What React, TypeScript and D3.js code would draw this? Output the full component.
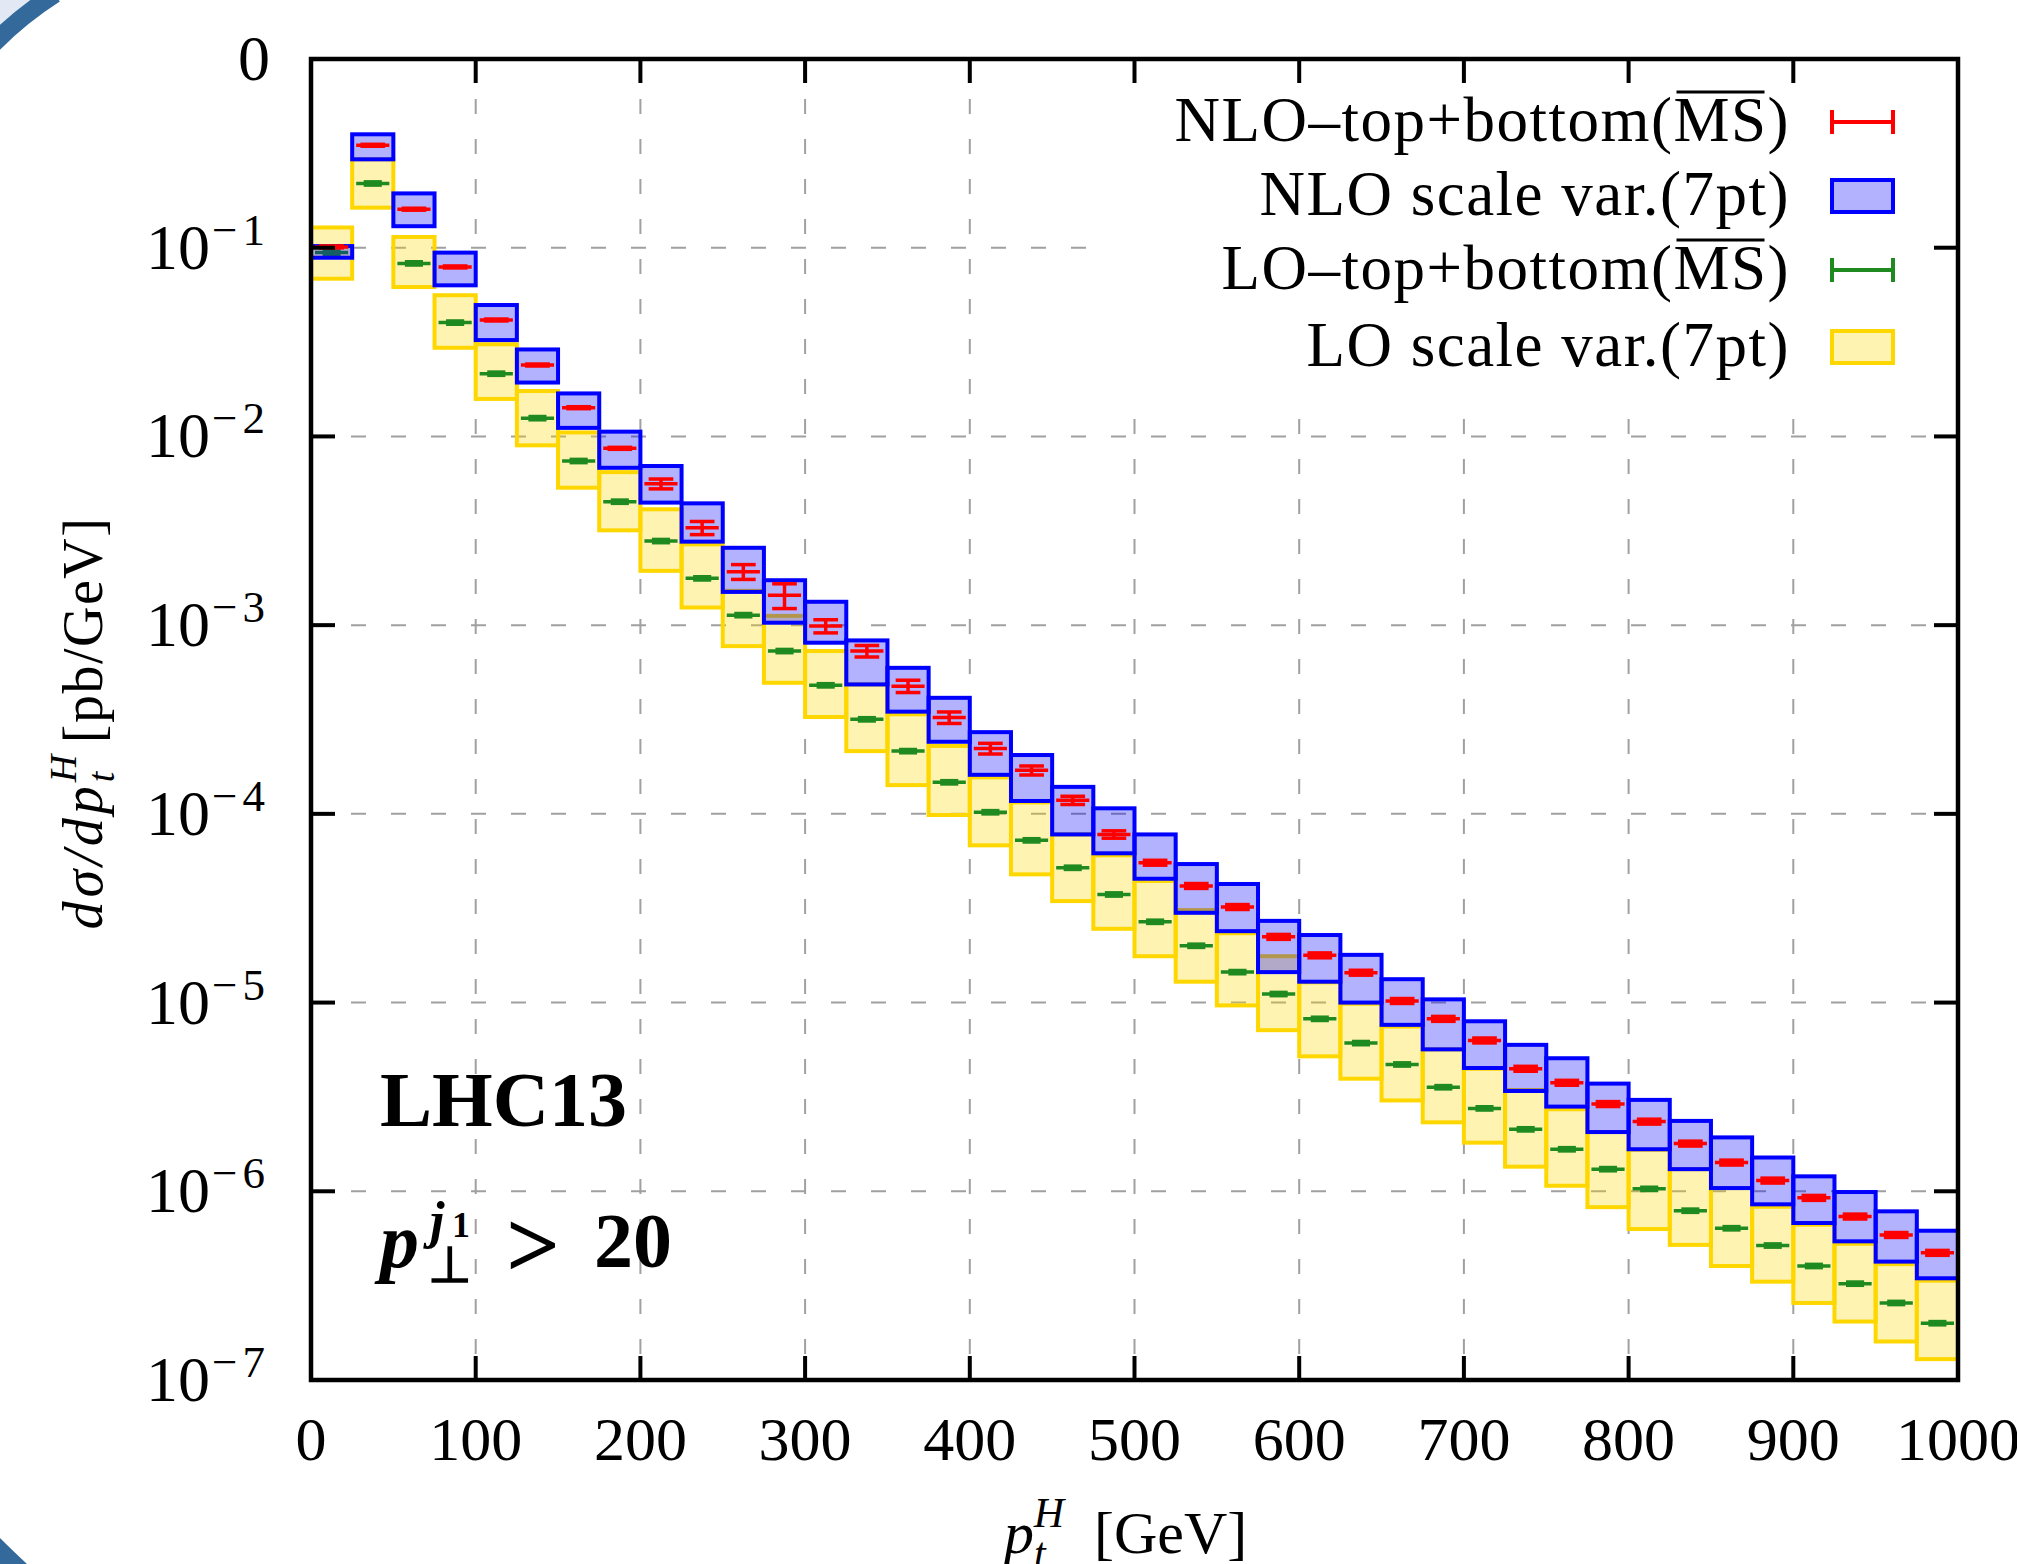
import React from 'react';
import * as d3 from 'd3';

// p_t^H bins (lower edges, GeV), 25 GeV wide
const binLow = [0, 25, 50, 75, 100, 125, 150, 175, 200, 225, 250, 275, 300, 325, 350, 375, 400, 425, 450, 475,
  500, 525, 550, 575, 600, 625, 650, 675, 700, 725, 750, 775, 800, 825, 850, 875, 900, 925, 950, 975];
const binWidth = 25;

// NLO top+bottom (MSbar), central value [pb/GeV]
const nloCentral = [0.101, 0.349, 0.160, 0.0791, 0.0414, 0.0239, 0.0142, 0.00865, 0.00561, 0.00328,
  0.00192, 0.00144, 0.000989, 0.000729, 0.000475, 0.000324, 0.000222, 0.000170, 0.000118, 7.78e-5,
  5.51e-5, 4.15e-5, 3.21e-5, 2.23e-5, 1.78e-5, 1.44e-5, 1.02e-5, 8.20e-6, 6.30e-6, 4.46e-6,
  3.76e-6, 2.90e-6, 2.34e-6, 1.79e-6, 1.42e-6, 1.14e-6, 9.23e-7, 7.35e-7, 5.87e-7, 4.72e-7];
// NLO statistical error (relative)
const nloStatErr = [0.012, 0.012, 0.012, 0.012, 0.012, 0.012, 0.012, 0.012, 0.06, 0.08,
  0.09, 0.15, 0.08, 0.07, 0.075, 0.07, 0.065, 0.055, 0.05, 0.045,
  0.03, 0.03, 0.03, 0.03, 0.03, 0.03, 0.03, 0.03, 0.03, 0.03,
  0.03, 0.03, 0.03, 0.03, 0.03, 0.03, 0.03, 0.03, 0.03, 0.03];
// NLO 7-point scale variation envelope
const nloUp = [0.102, 0.399, 0.194, 0.0942, 0.0497, 0.0289, 0.0169, 0.0106, 0.00697, 0.00442,
  0.00257, 0.00173, 0.00133, 0.000830, 0.000594, 0.000412, 0.000271, 0.000205, 0.000139, 0.000107,
  7.78e-5, 5.42e-5, 4.25e-5, 2.71e-5, 2.28e-5, 1.79e-5, 1.33e-5, 1.04e-5, 7.96e-6, 5.97e-6,
  5.07e-6, 3.72e-6, 3.05e-6, 2.36e-6, 1.93e-6, 1.51e-6, 1.20e-6, 9.91e-7, 7.83e-7, 6.18e-7];
const nloDown = [0.0885, 0.294, 0.130, 0.0632, 0.0324, 0.0193, 0.0111, 0.00682, 0.00446, 0.00277,
  0.00150, 0.00103, 0.000807, 0.000485, 0.000348, 0.000241, 0.000161, 0.000117, 7.78e-5, 6.18e-5,
  4.53e-5, 2.99e-5, 2.39e-5, 1.45e-5, 1.29e-5, 1.00e-5, 7.62e-6, 5.65e-6, 4.50e-6, 3.40e-6,
  2.81e-6, 2.06e-6, 1.67e-6, 1.31e-6, 1.04e-6, 8.53e-7, 6.79e-7, 5.43e-7, 4.24e-7, 3.46e-7];

// LO top+bottom (MSbar), central value
const loCentral = [0.0942, 0.219, 0.0826, 0.0401, 0.0215, 0.0125, 0.00741, 0.00451, 0.00279, 0.00177,
  0.00113, 0.000729, 0.000480, 0.000317, 0.000215, 0.000147, 0.000102, 7.24e-5, 5.18e-5, 3.74e-5,
  2.68e-5, 2.00e-5, 1.45e-5, 1.11e-5, 8.20e-6, 6.10e-6, 4.70e-6, 3.56e-6, 2.75e-6, 2.13e-6,
  1.67e-6, 1.31e-6, 1.03e-6, 7.89e-7, 6.37e-7, 5.16e-7, 4.02e-7, 3.24e-7, 2.56e-7, 2.00e-7];
const loStatErr = 0.02;
// LO 7-point scale variation envelope
const loUp = [0.128, 0.294, 0.114, 0.0560, 0.0308, 0.0174, 0.0105, 0.00647, 0.00411, 0.00268,
  0.00152, 0.00112, 0.000729, 0.000485, 0.000337, 0.000229, 0.000156, 0.000115, 7.78e-5, 6.03e-5,
  4.41e-5, 3.09e-5, 2.33e-5, 1.76e-5, 1.28e-5, 9.86e-6, 7.46e-6, 5.65e-6, 4.46e-6, 3.44e-6,
  2.72e-6, 2.06e-6, 1.66e-6, 1.31e-6, 1.04e-6, 8.28e-7, 6.65e-7, 5.27e-7, 4.11e-7, 3.36e-7];
const loDown = [0.0685, 0.163, 0.0619, 0.0295, 0.0158, 0.00897, 0.00535, 0.00318, 0.00194, 0.00124,
  0.000774, 0.000495, 0.000326, 0.000215, 0.000142, 9.86e-5, 6.81e-5, 4.78e-5, 3.45e-5, 2.46e-5,
  1.76e-5, 1.29e-5, 9.66e-6, 7.14e-6, 5.19e-6, 3.95e-6, 3.03e-6, 2.32e-6, 1.81e-6, 1.35e-6,
  1.07e-6, 8.24e-7, 6.31e-7, 5.20e-7, 4.02e-7, 3.32e-7, 2.56e-7, 2.04e-7, 1.60e-7, 1.29e-7];

const xTicks = [0, 100, 200, 300, 400, 500, 600, 700, 800, 900, 1000];
const yTicks = [1, 1e-1, 1e-2, 1e-3, 1e-4, 1e-5, 1e-6, 1e-7];
const yTickBase = ['0', '10', '10', '10', '10', '10', '10', '10'];
const yTickExp = ['', '−1', '−2', '−3', '−4', '−5', '−6', '−7'];

const FONT = '"Liberation Serif", "Times New Roman", serif';
const RED = '#ff0000';
const GREEN = '#1f8a1f';
const BLUE = '#0000ff';
const GOLD = '#ffd700';
const BLUE_FILL = 'rgba(0,0,255,0.3)';
const GOLD_FILL = 'rgba(255,215,0,0.3)';

export default function App() {
  const W = 2017, H = 1564;
  const left = 311, right = 1958, top = 59, bottom = 1380;
  const x = d3.scaleLinear().domain([0, 1000]).range([left, right]);
  const y = d3.scaleLog().domain([1e-7, 1]).range([bottom, top]);
  const tickLen = 24;

  const bins = binLow.map((lo, i) => {
    const xl = x(lo), xr = x(lo + binWidth);
    return { i, xl, xr, xm: (xl + xr) / 2, w: xr - xl };
  });

  // x-errorbar style marker: line across the bin plus a vertical error bar with caps
  const marker = (b, c, e, color, capFrac, key) => {
    const yc = y(c), yu = y(c * (1 + e)), yd = y(c * (1 - e));
    const hw = b.w * capFrac;
    return (
      <g key={key} stroke={color} strokeWidth={3.5} fill="none">
        <line x1={b.xl + 4} x2={b.xr - 4} y1={yc} y2={yc} />
        <line x1={b.xm} x2={b.xm} y1={yu} y2={yd} />
        <line x1={b.xm - hw} x2={b.xm + hw} y1={yu} y2={yu} />
        <line x1={b.xm - hw} x2={b.xm + hw} y1={yd} y2={yd} />
      </g>
    );
  };

  // legend text metrics (Liberation Serif)
  const lfs = 63, ls = 1.5;
  const textRight = 1790;
  const parenW = 0.333 * lfs + ls;
  const msW = 1.445 * lfs + 2 * ls;

  const legendRows = [
    { y: 122, label: 'NLO–top+bottom(', ms: true, kind: 'bar', color: RED },
    { y: 196, label: 'NLO scale var.(7pt)', ms: false, kind: 'box', color: BLUE, fill: BLUE_FILL },
    { y: 270, label: 'LO–top+bottom(', ms: true, kind: 'bar', color: GREEN },
    { y: 347, label: 'LO scale var.(7pt)', ms: false, kind: 'box', color: GOLD, fill: GOLD_FILL },
  ];

  return (
    <svg width={W} height={H} viewBox={`0 0 ${W} ${H}`}
      style={{ position: 'absolute', left: 0, top: 0, background: '#fff' }} fontFamily={FONT}>
      {/* slide frame remnants */}
      <path d="M0,0 L36,0 A370,370 0 0 0 0,30 Z" fill="#e3e9f4" />
      <path d="M-8,45 A361,361 0 0 1 55,-6" fill="none" stroke="#336a9b" strokeWidth={18} />
      <path d="M0,1538 Q12,1550 27,1564 L0,1564 Z" fill="#336a9b" />

      {/* grid */}
      <g stroke="#a0a0a0" strokeWidth={2} strokeDasharray="15 25">
        {yTicks.slice(1, -1).map(v => (
          <line key={'gy' + v} x1={left} x2={right} y1={y(v)} y2={y(v)} />
        ))}
        {xTicks.slice(1, -1).map(v => (
          <line key={'gx' + v} x1={x(v)} x2={x(v)} y1={top} y2={bottom} />
        ))}
      </g>

      {/* legend background hides the grid */}
      <rect x={1110} y={top + 2} width={right - 1110} height={345} fill="#fff" />

      {/* LO scale band */}
      {bins.map(b => (
        <rect key={'ly' + b.i} x={b.xl} y={y(loUp[b.i])} width={b.w}
          height={y(loDown[b.i]) - y(loUp[b.i])} fill={GOLD_FILL} stroke={GOLD} strokeWidth={4} />
      ))}
      {/* LO central */}
      {bins.map(b => marker(b, loCentral[b.i], loStatErr, GREEN, 0.22, 'lg' + b.i))}
      {/* NLO scale band */}
      {bins.map(b => (
        <rect key={'nb' + b.i} x={b.xl} y={y(nloUp[b.i])} width={b.w}
          height={y(nloDown[b.i]) - y(nloUp[b.i])} fill={BLUE_FILL} stroke={BLUE} strokeWidth={4} />
      ))}
      {/* NLO central with stat error */}
      {bins.map(b => marker(b, nloCentral[b.i], nloStatErr[b.i], RED, 0.3, 'nr' + b.i))}

      {/* frame */}
      <rect x={left} y={top} width={right - left} height={bottom - top} fill="none" stroke="#000" strokeWidth={4.5} />
      <g stroke="#000" strokeWidth={4}>
        {xTicks.slice(1, -1).map(v => (
          <g key={'tx' + v}>
            <line x1={x(v)} x2={x(v)} y1={bottom} y2={bottom - tickLen} />
            <line x1={x(v)} x2={x(v)} y1={top} y2={top + tickLen} />
          </g>
        ))}
        {yTicks.slice(1, -1).map(v => (
          <g key={'ty' + v}>
            <line x1={left} x2={left + tickLen} y1={y(v)} y2={y(v)} />
            <line x1={right} x2={right - tickLen} y1={y(v)} y2={y(v)} />
          </g>
        ))}
      </g>

      {/* x tick labels */}
      {xTicks.map(v => (
        <text key={'xl' + v} x={x(v)} y={1460} textAnchor="middle" fontSize={62}>{v}</text>
      ))}
      {/* y tick labels */}
      {yTicks.map((v, i) => (
        <text key={'yl' + v} x={270} y={y(v) + 21} textAnchor="end" fontSize={64}>
          {yTickBase[i]}
          {yTickExp[i] && <tspan dy={-24} dx={2} fontSize={45} letterSpacing={5}>{yTickExp[i]}</tspan>}
        </text>
      ))}

      {/* axis titles */}
      <text transform="translate(102,723) rotate(-90)" textAnchor="middle" fontSize={56} letterSpacing={1.5}>
        <tspan fontStyle="italic" letterSpacing={4}>dσ/dp</tspan>
        <tspan fontStyle="italic" fontSize={38} dy={12}>t</tspan>
        <tspan fontStyle="italic" fontSize={38} dx={-12} dy={-38}>H</tspan>
        <tspan dy={26} dx={10}>[pb/GeV]</tspan>
      </text>
      <text x={1004} y={1553} fontSize={60}>
        <tspan fontStyle="italic">p</tspan>
        <tspan fontStyle="italic" fontSize={42} dy={14}>t</tspan>
        <tspan fontStyle="italic" fontSize={42} dx={-12} dy={-40}>H</tspan>
        <tspan dy={26} dx={30}>[GeV]</tspan>
      </text>

      {/* legend */}
      {legendRows.map(r => (
        <g key={'lg' + r.y} fontSize={lfs} letterSpacing={ls}>
          {r.ms ? (
            <>
              <text x={textRight} y={r.y + 19} textAnchor="end">)</text>
              <text x={textRight - parenW} y={r.y + 19} textAnchor="end">MS</text>
              <line x1={textRight - parenW - msW + 3} x2={textRight - parenW - 3}
                y1={r.y + 19 - 49} y2={r.y + 19 - 49} stroke="#000" strokeWidth={3} />
              <text x={textRight - parenW - msW} y={r.y + 19} textAnchor="end">{r.label}</text>
            </>
          ) : (
            <text x={textRight} y={r.y + 19} textAnchor="end">{r.label}</text>
          )}
          {r.kind === 'bar' ? (
            <g stroke={r.color} strokeWidth={4}>
              <line x1={1832} x2={1893} y1={r.y} y2={r.y} />
              <line x1={1832} x2={1832} y1={r.y - 12} y2={r.y + 12} />
              <line x1={1893} x2={1893} y1={r.y - 12} y2={r.y + 12} />
            </g>
          ) : (
            <rect x={1832} y={r.y - 16} width={61} height={32} fill={r.fill} stroke={r.color} strokeWidth={4} />
          )}
        </g>
      ))}

      {/* annotations */}
      <text x={380} y={1126} fontSize={78} fontWeight="bold">LHC13</text>
      <text x={380} y={1267} fontSize={78} fontWeight="bold" fontStyle="italic">p</text>
      <text x={428} y={1282} fontSize={50} fontWeight="bold">⊥</text>
      <text x={430} y={1238} fontSize={52} fontWeight="bold" fontStyle="italic">j</text>
      <text x={452} y={1237} fontSize={36} fontWeight="bold">1</text>
      <text x={506} y={1277} fontSize={95} fontWeight="bold">&gt;</text>
      <text x={594} y={1267} fontSize={78} fontWeight="bold">20</text>
    </svg>
  );
}
